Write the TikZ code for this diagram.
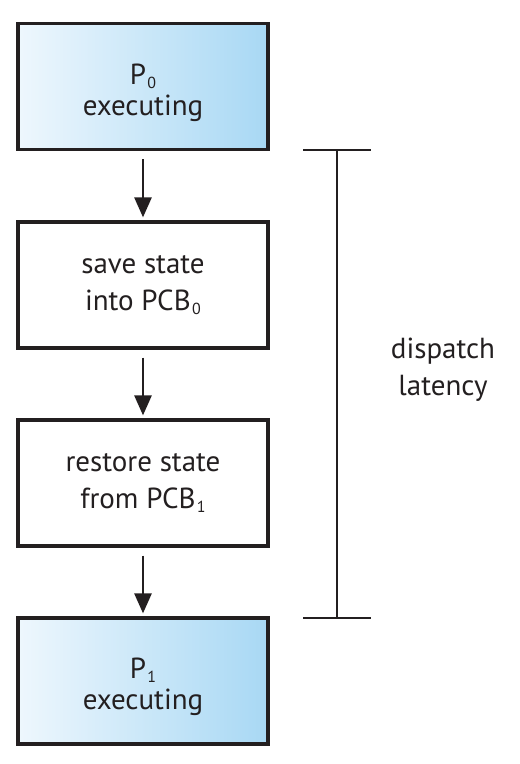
\documentclass[tikz,border=0pt]{standalone}
\usepackage{fontspec}
\setmainfont{PT Sans}
\usetikzlibrary{arrows.meta}
\definecolor{boxleft}{HTML}{EEF7FD}
\definecolor{boxright}{HTML}{A8D8F4}
\definecolor{ink}{HTML}{231F20}
\newcommand{\sbs}[1]{\kern1.5pt\raisebox{-4pt}{\fontsize{16}{16}\selectfont #1}}
\tikzset{
  procbox/.style={draw=ink, line width=3.2pt, minimum width=250pt, minimum height=126pt,
    inner sep=0pt, align=center, text=ink, font=\fontsize{29}{37}\selectfont},
  execbox/.style={procbox, shading=axis, left color=boxleft, right color=boxright, shading angle=90},
  exectext/.style={align=center, text=ink, inner sep=0pt, font=\fontsize{29}{31}\selectfont},
  flow/.style={draw=ink, line width=2.6pt, -{Triangle[width=17pt,length=20pt]}},
  bracket/.style={draw=ink, line width=2.4pt},
  lbl/.style={align=center, text=ink, font=\fontsize{29}{37}\selectfont}
}
\begin{document}
\begin{tikzpicture}[x=1pt,y=-1pt]
\useasboundingbox (0,0) rectangle (520,764);
\node[execbox] (p0) at (143,86.5) {};
\node[exectext] (p0t) at ([yshift=-6pt]p0.center) {P\sbs{0}\\executing};
\node[procbox] (save) at (143,285) {save state\\into PCB\sbs{0}};
\node[procbox] (rest) at (143,483) {restore state\\from PCB\sbs{1}};
\node[execbox] (p1) at (143,681) {};
\node[exectext] (p1t) at ([yshift=-6pt]p1.center) {P\sbs{1}\\executing};
\draw[flow] ([yshift=-8pt]p0.south) -- ([yshift=3pt]save.north);
\draw[flow] ([yshift=-8pt]save.south) -- ([yshift=3pt]rest.north);
\draw[flow] ([yshift=-8pt]rest.south) -- ([yshift=3pt]p1.north);
\coordinate (tl) at (303,150);
\coordinate (tr) at (371,150);
\coordinate (tm) at (337,150);
\coordinate (bl) at (303,618);
\coordinate (br) at (371,618);
\coordinate (bm) at (337,618);
\draw[bracket] (tl) -- (tr);
\draw[bracket] (bl) -- (br);
\draw[bracket] (tm) -- (bm);
\node[lbl] (lat) at (443,370) {dispatch\\latency};
\end{tikzpicture}
\end{document}
